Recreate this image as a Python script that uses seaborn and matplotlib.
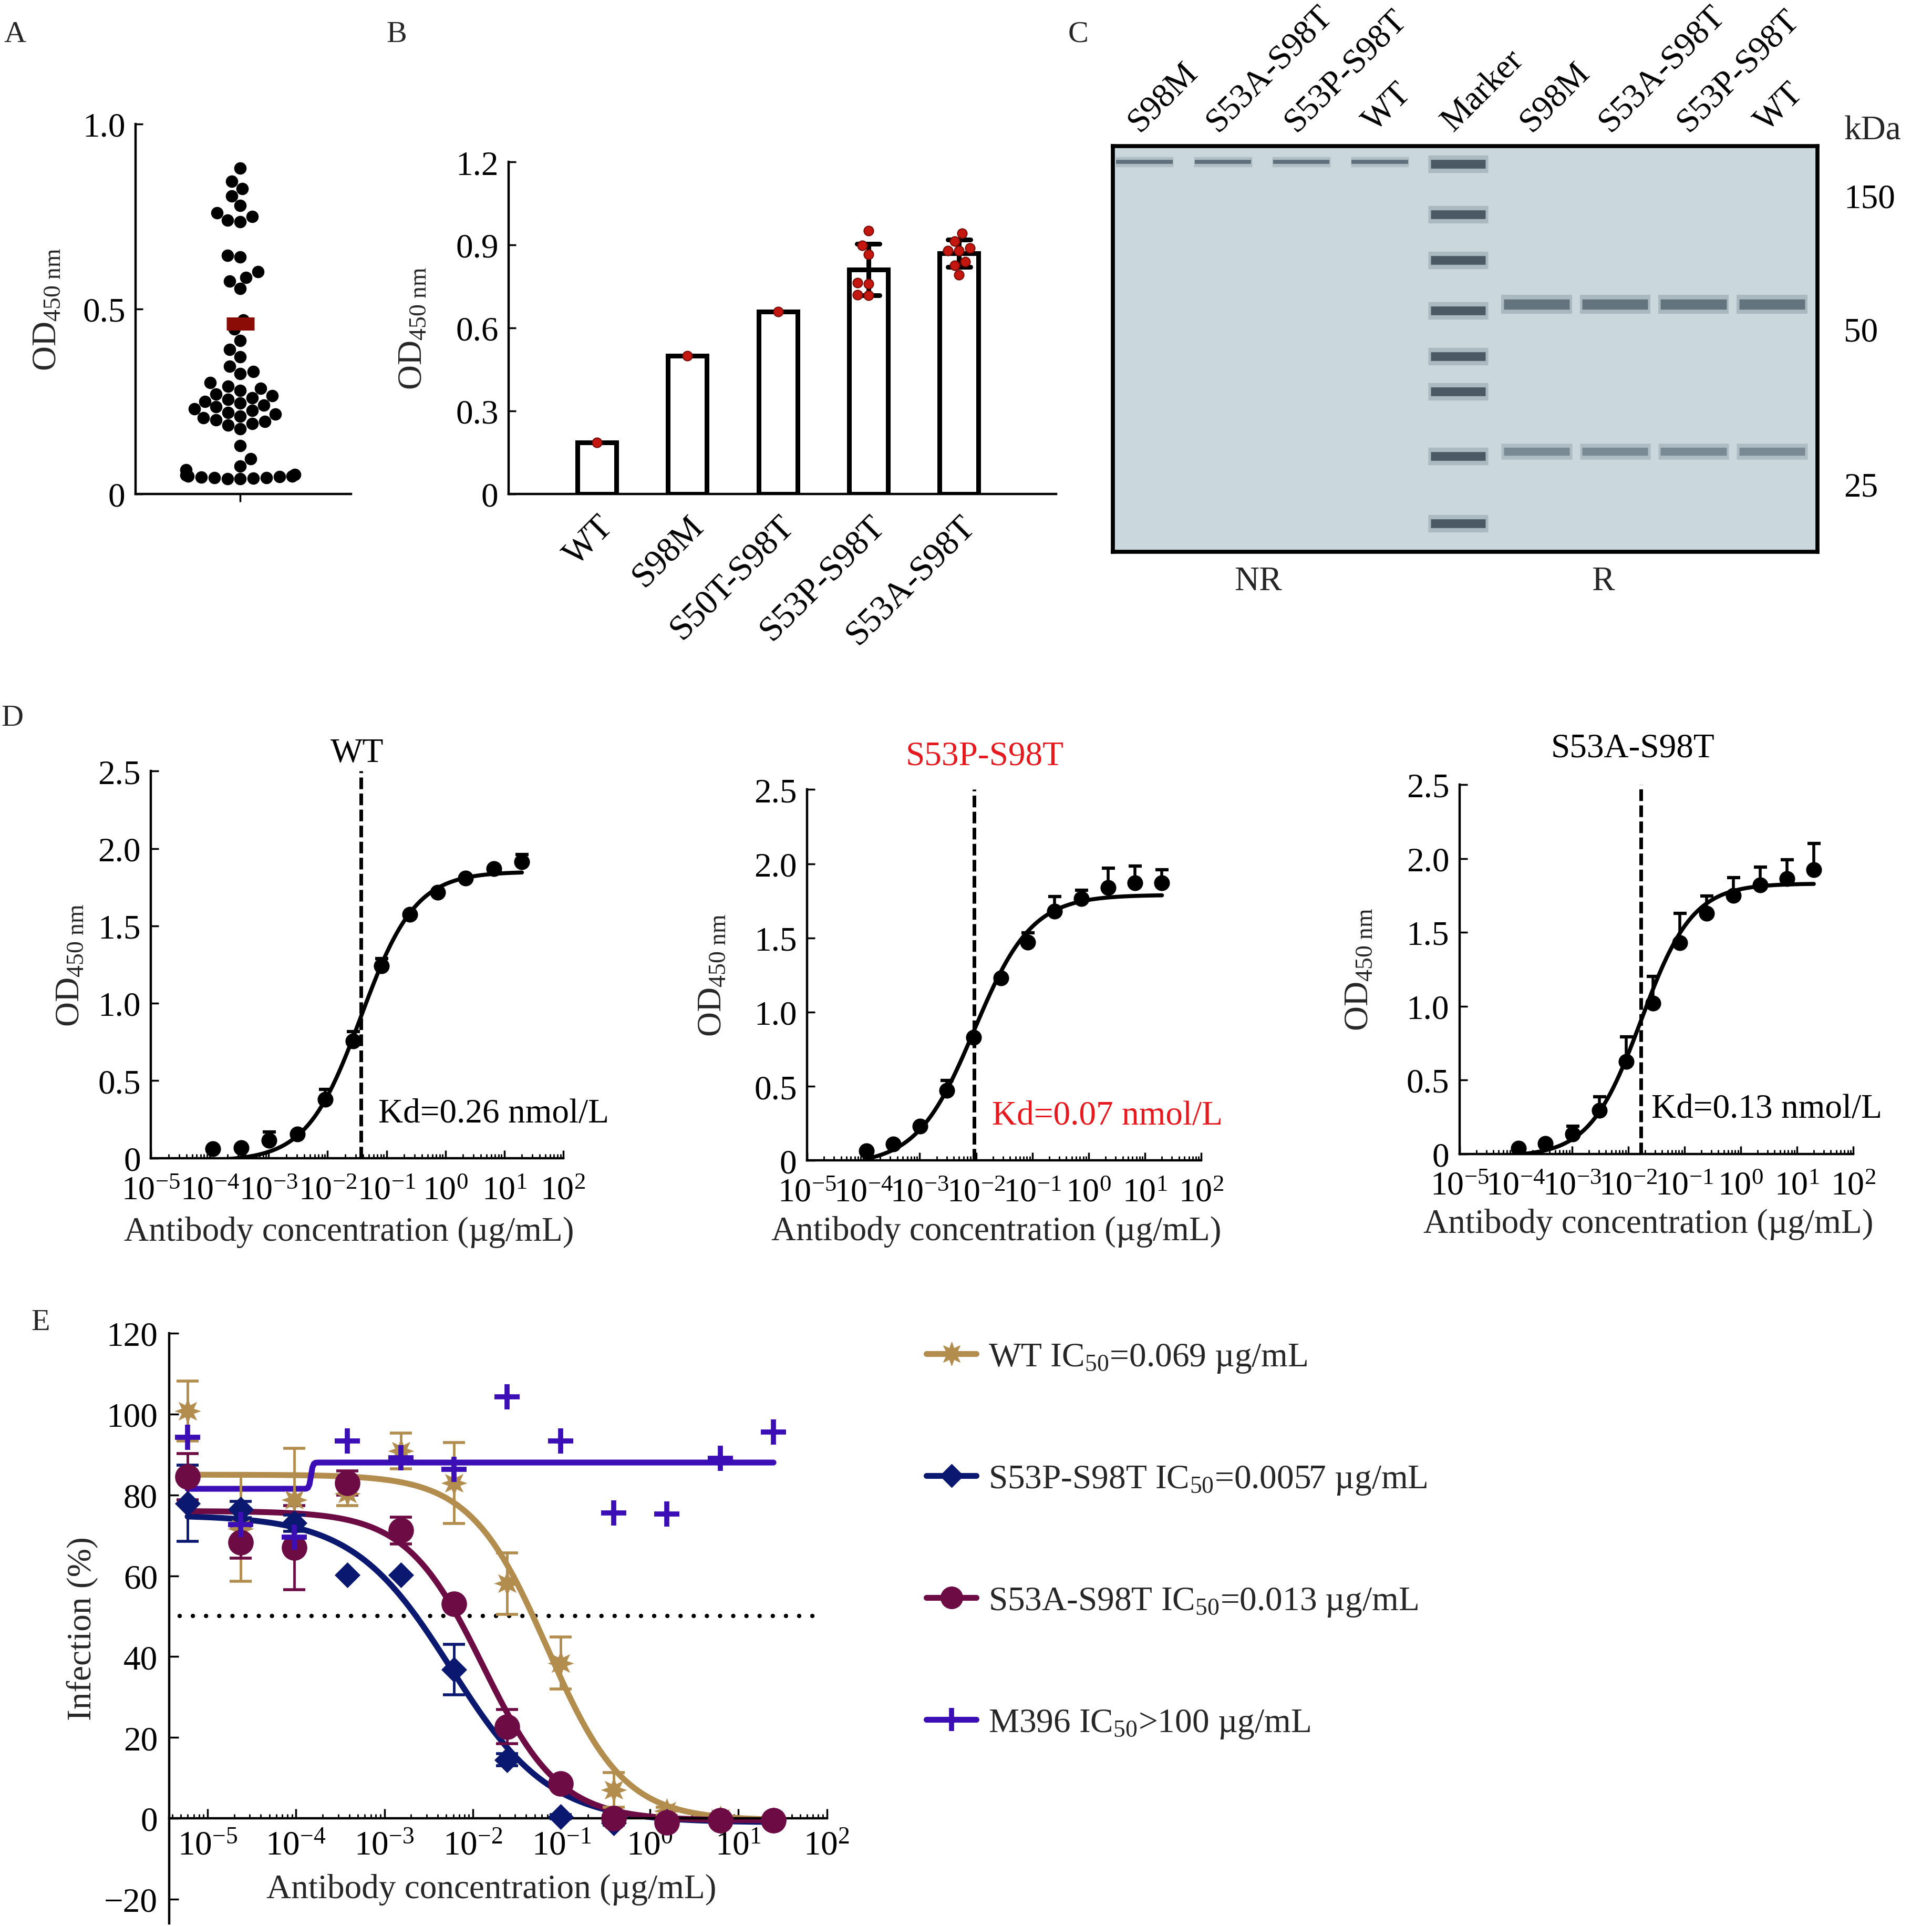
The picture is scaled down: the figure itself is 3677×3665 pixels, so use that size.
import matplotlib
matplotlib.use("Agg")
import matplotlib.pyplot as plt
import matplotlib.transforms as mtransforms
from matplotlib.lines import Line2D
from matplotlib.ticker import LogLocator, LogFormatterSciNotation, NullFormatter
import numpy as np
import pandas as pd
import seaborn as sns


sns.set_theme(style="ticks")
plt.rcParams["font.family"] = ["Liberation Serif", "DejaVu Serif"]
plt.rcParams["mathtext.fontset"] = "custom"
plt.rcParams["mathtext.rm"] = "Liberation Serif"
plt.rcParams["mathtext.it"] = "Liberation Serif:italic"
plt.rcParams["mathtext.bf"] = "Liberation Serif:bold"
plt.rcParams["mathtext.default"] = "regular"
plt.rcParams["axes.unicode_minus"] = True

# ---------------- data ----------------
# A: OD450 of the screened clones
screen_od = [
    0.88, 0.845, 0.825, 0.805, 0.78, 0.76, 0.75, 0.74, 0.735,
    0.645, 0.64, 0.60, 0.585, 0.575, 0.555,
    0.47, 0.445, 0.415, 0.39, 0.37, 0.345, 0.33, 0.325,
    0.30, 0.29, 0.285, 0.28, 0.27, 0.265, 0.26, 0.255, 0.25, 0.245, 0.24,
    0.235, 0.23, 0.225, 0.22, 0.215, 0.21, 0.205, 0.20, 0.195, 0.19, 0.185, 0.175,
    0.13, 0.095, 0.075, 0.065,
    0.052, 0.05, 0.048, 0.047, 0.046, 0.045, 0.044, 0.043, 0.042, 0.04, 0.04,
]
screen_median = 0.46

# B: OD450 of the variants
variant_names = ["WT", "S98M", "S50T-S98T", "S53P-S98T", "S53A-S98T"]
od_wt = [0.186]
od_s98m = [0.499]
od_s50t = [0.659]
od_s53p = [0.952, 0.898, 0.866, 0.759, 0.763, 0.718, 0.719]
od_s53a = [0.942, 0.914, 0.879, 0.879, 0.889, 0.839, 0.826, 0.791]

# C: SDS-PAGE (relative migration, 0 = top of gel)
gel_lanes = ["S98M", "S53A-S98T", "S53P-S98T", "WT", "Marker",
             "S98M", "S53A-S98T", "S53P-S98T", "WT"]
gel_intact_band = 0.039
gel_marker_bands = [0.044, 0.168, 0.281, 0.405, 0.518, 0.605, 0.764, 0.930]
gel_heavy_band = 0.39
gel_light_band = 0.753
kda_labels = ["150", "50", "25"]
kda_migration = [0.121, 0.45, 0.833]

# D: ELISA binding curves
elisa_conc = [0.000113, 0.000339, 0.00102, 0.00305, 0.00914, 0.0274,
              0.0823, 0.247, 0.741, 2.22, 6.67, 20.0]
d_wt_mean = [0.06, 0.068, 0.114, 0.155, 0.38, 0.757, 1.243, 1.573, 1.716, 1.807, 1.87, 1.914]
d_wt_err = [0, 0, 0.056, 0.01, 0.063, 0.061, 0.047, 0.01, 0.01, 0.005, 0.01, 0.046]
d_s53p_mean = [0.066, 0.11, 0.232, 0.474, 0.83, 1.23, 1.47, 1.68, 1.765, 1.84, 1.87, 1.87]
d_s53p_err = [0, 0, 0, 0.066, 0, 0, 0.065, 0.1, 0.055, 0.13, 0.115, 0.09]
d_s53a_mean = [0.038, 0.071, 0.133, 0.293, 0.626, 1.02, 1.43, 1.63, 1.75, 1.82, 1.864, 1.924]
d_s53a_err = [0, 0, 0.053, 0.095, 0.167, 0.18, 0.2, 0.115, 0.12, 0.12, 0.126, 0.176]
# fitted 4PL: (low, high, midpoint, hill)
d_wt_fit = (-0.02, 1.85, 0.037, 0.94)
d_s53p_fit = (-0.03, 1.79, 0.0093, 0.85)
d_s53a_fit = (-0.02, 1.83, 0.017, 0.95)
d_titles = ["WT", "S53P-S98T", "S53A-S98T"]
d_kd_text = ["Kd=0.26 nmol/L", "Kd=0.07 nmol/L", "Kd=0.13 nmol/L"]

# E: pseudovirus neutralisation
neut_conc = [5.96e-6, 2.38e-5, 9.54e-5, 3.81e-4, 1.53e-3, 6.10e-3,
             2.44e-2, 9.77e-2, 0.391, 1.56, 6.25, 25.0]
e_wt_mean = [100.8, 71.6, 78.8, 80.3, 90.9, 82.9, 58.1, 38.4, 7.1, 1.8, 0.0, -0.3]
e_wt_sd = [7.4, 13.0, 12.7, 3.0, 4.4, 10.0, 7.6, 6.4, 4.3, 1.0, 0.5, 0.5]
e_s53p_mean = [77.9, 76.4, 73.0, 60.2, 60.2, 36.8, 14.5, 0.4, -1.2, -0.8, -0.6, -0.5]
e_s53p_sd = [9.4, 2.0, 2.0, 0.0, 0.0, 6.2, 1.5, 0.5, 0.5, 0.3, 0.3, 0.3]
e_s53a_mean = [84.5, 68.3, 66.9, 82.9, 71.2, 53.0, 22.7, 8.6, 0.0, -1.0, -0.5, -0.5]
e_s53a_sd = [5.7, 4.0, 10.4, 3.0, 3.3, 1.0, 4.2, 1.0, 0.5, 0.5, 0.5, 0.5]
e_m396_mean = [94.2, 72.7, 69.5, 93.4, 89.2, 86.3, 104.2, 93.4, 75.5, 75.3, 89.1, 95.6]
e_wt_fit = (85.0, -0.5, 0.069, 1.0)
e_s53p_fit = (75.0, -1.0, 0.0057, 0.78)
e_s53a_fit = (76.0, -0.5, 0.013, 1.0)
e_m396_fit = (81.5, 88.0, 1.48e-4, 40.0)
e_legend = ["WT IC$_{50}$=0.069 µg/mL", "S53P-S98T IC$_{50}$=0.0057 µg/mL",
            "S53A-S98T IC$_{50}$=0.013 µg/mL", "M396 IC$_{50}$>100 µg/mL"]
half_level = 50

# ---------------- style ----------------
FS = 47
GOLD = "#b38d4e"
NAVY = "#0b1870"
MAROON = "#6d0b45"
VIOLET = "#3b0fb5"
RED = "#e6191e"
OD_LABEL = "OD$_{450\\ nm}$"
CONC_LABEL = "Antibody concentration (µg/mL)"


def four_pl(conc, low, high, mid, hill):
    conc = np.asarray(conc, dtype=float)
    return high + (low - high) / (1.0 + (conc / mid) ** hill)


def curve(conc, fit):
    xs = np.logspace(np.log10(min(conc)), np.log10(max(conc)), 400)
    return xs, four_pl(xs, *fit)


fig = plt.figure(figsize=(36.77, 36.66), dpi=100)
fig.patch.set_facecolor("white")
W, H = 1568.0, 1563.0


def place(left, top, right, bottom):
    return fig.add_axes([left / W, 1 - bottom / H, (right - left) / W, (bottom - top) / H])


def fig_text(x, y, s, **kw):
    fig.text(x / W, 1 - y / H, s, ha="center", va="center", **kw)


def clean(ax, lw=3.2):
    sns.despine(ax=ax)
    for side in ("left", "bottom"):
        ax.spines[side].set_linewidth(lw)
        ax.spines[side].set_color("black")
    ax.set_facecolor("white")


# ---------------- A ----------------
axa = place(110, 101, 285, 401)
sns.swarmplot(y=screen_od, color="black", size=17, ax=axa)
axa.hlines(screen_median, -0.103, 0.103, color="#8b0b07", lw=18, zorder=5)
clean(axa)
axa.set_xlim(-0.773, 0.818)
axa.set_ylim(0, 1.0)
axa.set_yticks([0, 0.5, 1.0])
axa.set_yticklabels(["0", "0.5", "1.0"])
axa.set_xticks([0])
axa.set_xticklabels([""])
axa.tick_params(axis="y", direction="in", length=10, width=2.5, pad=14, labelsize=FS, colors="black")
axa.tick_params(axis="x", direction="out", length=11, width=2.5, colors="black")
axa.set_ylabel(OD_LABEL, fontsize=FS)
axa.yaxis.set_label_coords(-0.337, 0.5)
axa.set_xlabel("")

# ---------------- B ----------------
df_b = pd.DataFrame({
    "variant": ["WT"] * len(od_wt) + ["S98M"] * len(od_s98m) + ["S50T-S98T"] * len(od_s50t)
    + ["S53P-S98T"] * len(od_s53p) + ["S53A-S98T"] * len(od_s53a),
    "od": od_wt + od_s98m + od_s50t + od_s53p + od_s53a,
})
axb = place(412.8, 131.9, 857, 401)
sns.barplot(data=df_b, x="variant", y="od", order=variant_names, errorbar="sd",
            color="white", edgecolor="black", linewidth=6.5, width=0.43, saturation=1,
            capsize=0.25, err_kws={"color": "black", "linewidth": 6.5}, ax=axb)
sns.swarmplot(data=df_b, x="variant", y="od", order=variant_names, color="#c4170f",
              size=13, edgecolor="#7a0a05", linewidth=1.5, ax=axb, zorder=4)
clean(axb)
axb.set_xlim(-0.974, 5.07)
axb.set_ylim(0, 1.2)
axb.set_yticks([0, 0.3, 0.6, 0.9, 1.2])
axb.set_yticklabels(["0", "0.3", "0.6", "0.9", "1.2"])
axb.set_xticks(range(len(variant_names)))
axb.set_xticklabels(variant_names, rotation=45, ha="right", va="top", rotation_mode="anchor")
axb.tick_params(axis="y", direction="in", length=10, width=2.5, pad=14, labelsize=FS, colors="black")
axb.tick_params(axis="x", direction="in", length=10, width=2.5, pad=22, labelsize=FS + 1, colors="black")
axb.set_ylabel(OD_LABEL, fontsize=FS)
axb.yaxis.set_label_coords(-0.146, 0.5)
axb.set_xlabel("")

# ---------------- C ----------------
axc = place(903, 119, 1475, 448)
axc.set_facecolor("#cad7dc")
lanes = np.arange(len(gel_lanes))
marker_lane = gel_lanes.index("Marker")
for lane in lanes[:marker_lane]:
    axc.hlines(gel_intact_band, lane - 0.37, lane + 0.37, color="#7d8d98", lw=14, alpha=0.35)
    axc.hlines(gel_intact_band, lane - 0.36, lane + 0.36, color="#5f707c", lw=5.5)
for pos in gel_marker_bands:
    axc.hlines(pos, marker_lane - 0.38, marker_lane + 0.38, color="#73838f", lw=24, alpha=0.35)
    axc.hlines(pos, marker_lane - 0.35, marker_lane + 0.35, color="#4a5964", lw=12)
for lane in lanes[marker_lane + 1:]:
    axc.hlines(gel_heavy_band, lane - 0.45, lane + 0.45, color="#8595a0", lw=26, alpha=0.45)
    axc.hlines(gel_heavy_band, lane - 0.42, lane + 0.42, color="#64747f", lw=14)
    axc.hlines(gel_light_band, lane - 0.45, lane + 0.45, color="#8c9ca7", lw=22, alpha=0.45)
    axc.hlines(gel_light_band, lane - 0.42, lane + 0.42, color="#7a8a95", lw=11)
axc.set_xlim(-0.405, 8.58)
axc.set_ylim(1, 0)
for side in axc.spines.values():
    side.set_linewidth(5.5)
    side.set_color("black")
    side.set_visible(True)
axc.xaxis.tick_top()
axc.set_xticks(lanes)
axc.set_xticklabels(gel_lanes, rotation=45, ha="left", va="bottom", rotation_mode="anchor")
shift = mtransforms.ScaledTranslation(-0.32, 0, fig.dpi_scale_trans)
for lbl in axc.get_xticklabels():
    lbl.set_transform(lbl.get_transform() + shift)
axc.yaxis.tick_right()
axc.set_yticks(kda_migration)
axc.set_yticklabels(kda_labels)
axc.tick_params(axis="x", length=0, pad=12, labelsize=FS, colors="black")
axc.tick_params(axis="y", length=0, pad=36, labelsize=FS, colors="black")
axc.text(1.038, 1.038, "kDa", transform=axc.transAxes, ha="left", va="center", fontsize=FS)
axc.grid(False)
fig_text(1021, 472, "NR", fontsize=FS)
fig_text(1301, 472, "R", fontsize=FS)

# ---------------- D ----------------
d_boxes = [(122.5, 626, 457, 940), (655, 641, 975, 942), (1184.5, 637, 1504, 936.5)]
d_means = [d_wt_mean, d_s53p_mean, d_s53a_mean]
d_errs = [d_wt_err, d_s53p_err, d_s53a_err]
d_fits = [d_wt_fit, d_s53p_fit, d_s53a_fit]
d_colors = ["black", RED, "black"]
d_title_x = [0.5, 0.45, 0.44]
d_title_y = [1.046, 1.09, 1.099]
d_kd_pos = [(0.552, 0.115), (0.469, 0.121), (0.487, 0.122)]
d_ylabel_x = [-0.157, -0.2, -0.214]

for i, box in enumerate(d_boxes):
    ax = place(*box)
    ax.set_xscale("log")
    ax.axvline(d_fits[i][2], color="black", lw=5, ls=(0, (3.2, 1.2)), zorder=1)
    xs, ys = curve(elisa_conc, d_fits[i])
    sns.lineplot(x=xs, y=ys, color="black", lw=5.5, estimator=None, ax=ax, zorder=2)
    ax.errorbar(elisa_conc, d_means[i], yerr=[np.zeros(len(elisa_conc)), d_errs[i]],
                fmt="none", ecolor="black", elinewidth=4, capsize=9, capthick=4.5, zorder=3)
    sns.scatterplot(x=elisa_conc, y=d_means[i], color="black", s=470, edgecolor="black",
                    linewidth=0, ax=ax, zorder=4)
    clean(ax)
    ax.set_xlim(1e-5, 1e2)
    ax.set_ylim(0, 2.5)
    ax.set_yticks([0, 0.5, 1.0, 1.5, 2.0, 2.5])
    ax.set_yticklabels(["0", "0.5", "1.0", "1.5", "2.0", "2.5"])
    ax.xaxis.set_major_locator(LogLocator(base=10, numticks=12))
    ax.xaxis.set_major_formatter(LogFormatterSciNotation())
    ax.xaxis.set_minor_locator(LogLocator(base=10, subs=np.arange(2, 10), numticks=12))
    ax.xaxis.set_minor_formatter(NullFormatter())
    ax.tick_params(axis="both", which="major", direction="in", length=11, width=2.5,
                   labelsize=FS, colors="black")
    ax.tick_params(axis="x", which="major", pad=24, labelsize=FS - 1)
    ax.tick_params(axis="y", which="major", pad=14)
    ax.tick_params(axis="x", which="minor", direction="in", length=6, width=2, colors="black")
    ax.set_ylabel(OD_LABEL, fontsize=FS)
    ax.yaxis.set_label_coords(d_ylabel_x[i], 0.5)
    ax.set_xlabel("")
    ax.text(0.48, -0.19, CONC_LABEL, transform=ax.transAxes, ha="center", va="center", fontsize=FS)
    ax.text(d_title_x[i], d_title_y[i], d_titles[i], transform=ax.transAxes, ha="center",
            va="center", fontsize=FS, color=d_colors[i])
    ax.text(*d_kd_pos[i], d_kd_text[i], transform=ax.transAxes, ha="left", va="center",
            fontsize=FS, color=d_colors[i])

# ---------------- E ----------------
axe = place(137.5, 1082, 671, 1561)
axe.set_xscale("log")
axe.axhline(half_level, 0.016, 0.992, color="black", lw=6, ls=(0, (0.01, 3.0)),
            dash_capstyle="round", zorder=1)
series = [
    (e_wt_mean, e_wt_sd, e_wt_fit, GOLD, (8, 1, 0), 36),
    (e_s53p_mean, e_s53p_sd, e_s53p_fit, NAVY, "D", 25),
    (e_s53a_mean, e_s53a_sd, e_s53a_fit, MAROON, "o", 35),
]
for mean, sd, fit, col, mk, ms in series:
    xs, ys = curve(neut_conc, fit)
    sns.lineplot(x=xs, y=ys, color=col, lw=8, estimator=None, ax=axe, zorder=2)
    axe.errorbar(neut_conc, mean, yerr=sd, fmt="none", ecolor=col, elinewidth=3.5,
                 capsize=15, capthick=4, zorder=3)
    sns.scatterplot(x=neut_conc, y=mean, color=col, marker=mk, s=ms ** 2, linewidth=0,
                    ax=axe, zorder=4)
xs, ys = curve(neut_conc, e_m396_fit)
sns.lineplot(x=xs, y=ys, color=VIOLET, lw=8, estimator=None, ax=axe, zorder=2.5)
sns.scatterplot(x=neut_conc, y=e_m396_mean, color=VIOLET, marker="+", s=34 ** 2,
                linewidth=7, ax=axe, zorder=4)
clean(axe)
axe.spines["bottom"].set_position(("data", 0))
axe.set_xlim(10 ** -5.43, 1e2)
axe.set_ylim(-26, 120)
axe.set_yticks([-20, 0, 20, 40, 60, 80, 100, 120])
axe.xaxis.set_major_locator(LogLocator(base=10, numticks=12))
axe.xaxis.set_major_formatter(LogFormatterSciNotation())
axe.xaxis.set_minor_locator(LogLocator(base=10, subs=np.arange(2, 10), numticks=12))
axe.xaxis.set_minor_formatter(NullFormatter())
axe.tick_params(axis="both", which="major", direction="in", length=13, width=2.5,
                labelsize=FS, colors="black")
axe.tick_params(axis="x", which="major", pad=16)
axe.tick_params(axis="y", which="major", pad=16)
axe.tick_params(axis="x", which="minor", direction="in", length=6, width=2, colors="black")
axe.set_ylabel("Infection (%)", fontsize=FS)
axe.yaxis.set_label_coords(-0.108, 0.5)
axe.set_xlabel("")
axe.text(0.49, 0.058, CONC_LABEL, transform=axe.transAxes, ha="center", va="center", fontsize=FS)

handles = [
    Line2D([], [], color=GOLD, lw=8, marker=(8, 1, 0), ms=32),
    Line2D([], [], color=NAVY, lw=8, marker="D", ms=22),
    Line2D([], [], color=MAROON, lw=8, marker="o", ms=30),
    Line2D([], [], color=VIOLET, lw=8, marker="+", ms=32, mew=7),
]
fig.legend(handles=handles, labels=e_legend, loc="upper left",
           bbox_to_anchor=(752 / W, 1 - 1089 / H), frameon=False, fontsize=FS,
           handlelength=1.45, handletextpad=0.35, labelspacing=2.61,
           borderpad=0, borderaxespad=0)

# ---------------- panel letters ----------------
for letter, (x, y) in zip("ABCDE", [(12, 28), (322, 28), (875, 28), (10, 583), (33, 1073)]):
    fig_text(x, y, letter, fontsize=42)

fig.savefig("out.png", dpi=100, facecolor="white")
